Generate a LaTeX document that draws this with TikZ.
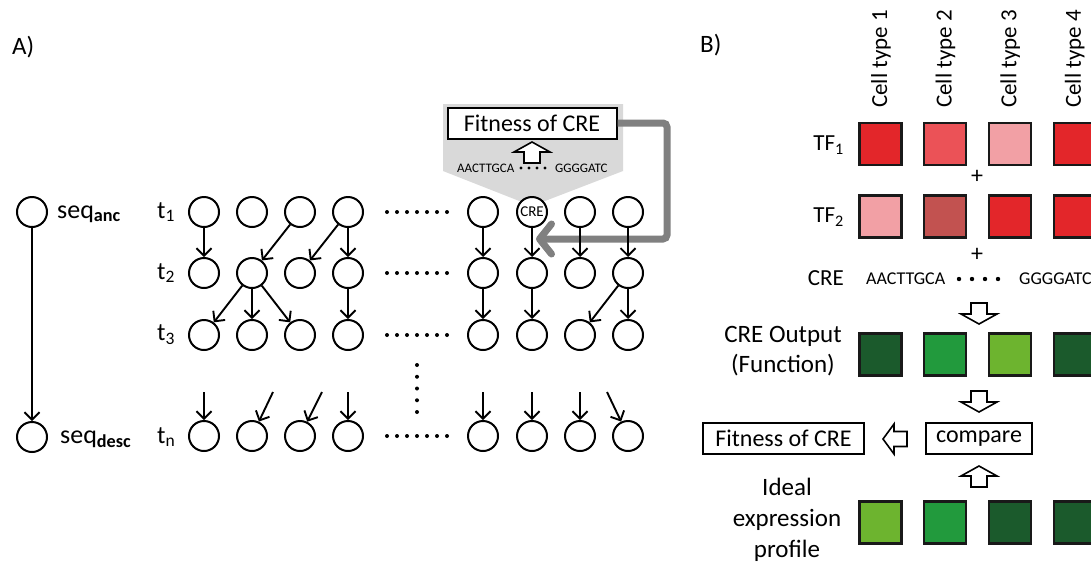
\documentclass[tikz,border=0pt]{standalone}
\usepackage{fontspec}
\setmainfont{Carlito}
\usetikzlibrary{arrows.meta}
\definecolor{redA}{HTML}{E3262A}
\definecolor{redB}{HTML}{EB5257}
\definecolor{redC}{HTML}{F2A0A5}
\definecolor{redD}{HTML}{C25250}
\definecolor{grnA}{HTML}{1B5A2C}
\definecolor{grnB}{HTML}{229A3D}
\definecolor{grnC}{HTML}{6DB42F}
\definecolor{callout}{HTML}{D9D9D9}
\definecolor{loopgrey}{HTML}{808080}
\newcommand{\fs}[1]{\fontsize{#1}{#1}\selectfont}
\newcommand{\fsl}[2]{\fontsize{#1}{#2}\selectfont}
\begin{document}
\begin{tikzpicture}[x=1pt,y=-1pt,
  stage/.style={circle,draw,line width=2pt,fill=white,minimum size=30pt,inner sep=0pt},
  lin/.style={line width=1.9pt,-{Straight Barb[length=7.5pt,width=15pt]}},
  greyarr/.style={draw=loopgrey,line width=7pt,rounded corners=4pt,
    -{Straight Barb[length=12pt,width=30pt,round]}},
  txt/.style={inner sep=0pt,font=\fs{25}},
  sq/.style={draw=black!90,line width=2.2pt,minimum size=42pt,inner sep=0pt},
  boxed/.style={draw,line width=2pt,fill=white,inner sep=0pt,minimum height=31pt,font=\fs{24}},
  hollowup/.pic={\draw[line width=1.6pt,fill=white,line join=miter]
    (0,0) -- (18,10) -- (8,10) -- (8,21) -- (-8,21) -- (-8,10) -- (-18,10) -- cycle;},
  dot/.style={fill=black,circle,inner sep=0pt,minimum size=4pt}
]
\clip (0,0) rectangle (1091,563);

% ---------------- panel A ----------------
\node[txt,anchor=west] (labA) at (12,47) {A)};

% ancestor / descendant overview
\node[stage] (seqa) at (32,212) {};
\node[stage] (seqd) at (32,437) {};
\node[txt,anchor=west,font=\fs{26}] (seqal) at (57,214) {seq\textsubscript{\textbf{anc}}};
\node[txt,anchor=west,font=\fs{26}] (seqdl) at (60,439) {seq\textsubscript{\textbf{desc}}};
\draw[lin] (seqa) -- (seqd);

% generation labels
\foreach \r/\yy/\s in {1/212/1,2/273/2,3/335/3,4/437/n}
  \node[txt,anchor=west,font=\fs{25}] (t\r) at (157,\yy) {t\textsubscript{\s}};

% callout around the CRE
\fill[callout] (443,104) -- (623,104) -- (623,171) -- (532,206) -- (443,171) -- cycle;

% population grid
\foreach \c/\xx in {1/204,2/252,3/300,4/348,5/483,7/580,8/628}
  \node[stage] (c1\c) at (\xx,212) {};
\node[stage,font=\fs{15}] (c16) at (532,212) {CRE};
\foreach \r/\yy in {2/273,3/335,4/436}
  \foreach \c/\xx in {1/204,2/252,3/300,4/348,5/483,6/532,7/580,8/628}
    \node[stage] (c\r\c) at (\xx,\yy) {};

% omitted generations and individuals
\foreach \yy in {212,273,335,436}
  \foreach \k in {0,...,6}
    \node[dot] at (387+10*\k,\yy) {};
\foreach \k in {0,...,4}
  \node[dot] at (417,365+11.75*\k) {};

% fitness evaluation inside the callout
\node[boxed,minimum width=169pt] (fitA) at (532,123) {Fitness of CRE};
\pic at (532,142) {hollowup};
\node[inner sep=0pt,anchor=west,font=\fs{13}] (seqL) at (457,168) {AACTTGCA};
\node[inner sep=0pt,anchor=west,font=\fs{13}] (seqR) at (555,168) {GGGGATC};
\foreach \xx in {521,529,537,545}
  \node[dot,minimum size=3.4pt] at (\xx,168) {};

% selection feeds back into the next generation
\coordinate (greytip) at (536,239);
\draw[greyarr] (fitA.east) -- (667,123) -- (667,239) -- (greytip);

% lineages between generations
\draw[lin] (c11) -- (c21);
\draw[lin] (c13) -- (c22);
\draw[lin] (c14) -- (c23);
\draw[lin] (c14) -- (c24);
\draw[lin] (c15) -- (c25);
\draw[lin] (c16) -- (c26);
\draw[lin] (c17) -- (c27);
\draw[lin] (c18) -- (c28);
\draw[lin] (c22) -- (c31);
\draw[lin] (c22) -- (c32);
\draw[lin] (c22) -- (c33);
\draw[lin] (c24) -- (c34);
\draw[lin] (c25) -- (c35);
\draw[lin] (c26) -- (c36);
\draw[lin] (c28) -- (c37);
\draw[lin] (c28) -- (c38);
\foreach \c/\xx in {1/204,2/273,3/322,4/348,5/483,6/532,7/580,8/607}{
  \coordinate (in\c) at (\xx,392);
  \draw[lin] (in\c) -- (c4\c);
}

% ---------------- panel B ----------------
\node[txt,anchor=west] (labB) at (700,45) {B)};

\foreach \c in {1,...,4}
  \node[txt,font=\fs{23},rotate=90,anchor=west] (ct\c) at ({881+64.6*(\c-1)},108) {Cell type \c};

\node[txt,anchor=east,font=\fs{23}] (tf1l) at (844,145) {TF\textsubscript{1}};
\node[txt,anchor=east,font=\fs{23}] (tf2l) at (844,217) {TF\textsubscript{2}};
\node[txt,anchor=east,font=\fs{23}] (crel) at (844,278) {CRE};
\node[txt,align=center,font={\fsl{25}{30}}] (outl) at (783,351) {CRE Output\\(Function)};
\node[txt,align=center,font={\fsl{25}{31}}] (idl) at (787,520) {Ideal\\expression\\profile};

\foreach \c/\col in {1/redA,2/redB,3/redC,4/redA}
  \node[sq,fill=\col] (tfa\c) at ({880.5+64.8*(\c-1)},144) {};
\foreach \c/\col in {1/redC,2/redD,3/redA,4/redA}
  \node[sq,fill=\col] (tfb\c) at ({880.5+64.8*(\c-1)},216.5) {};
\foreach \c/\col in {1/grnA,2/grnB,3/grnC,4/grnA}
  \node[sq,fill=\col] (out\c) at ({880.5+64.8*(\c-1)},354.5) {};
\foreach \c/\col in {1/grnC,2/grnB,3/grnA,4/grnA}
  \node[sq,fill=\col] (ide\c) at ({880.5+64.8*(\c-1)},522.5) {};

\node[txt,font=\fs{24}] (plus1) at (977,177) {+};
\node[txt,font=\fs{24}] (plus2) at (977,255) {+};

\node[inner sep=0pt,anchor=west,font=\fs{18}] (bseqL) at (866,279) {AACTTGCA};
\node[inner sep=0pt,anchor=west,font=\fs{18}] (bseqR) at (1019,279) {GGGGATC};
\foreach \xx in {959,972,985,998}
  \node[dot,minimum size=4.4pt] at (\xx,279) {};

\pic[rotate=180] at (979,324) {hollowup};
\pic[rotate=180] at (979,412) {hollowup};
\node[boxed,minimum width=106pt] (cmp) at (979,438.5) {compare};
\node[boxed,minimum width=161pt] (fitB) at (783.5,438.5) {Fitness of CRE};
% hollow arrow from compare towards the fitness box
\draw[line width=1.6pt,fill=white,line join=miter]
  (883,439) -- (894,424) -- (894,431.5) -- (907,431.5) -- (907,446.5)
  -- (894,446.5) -- (894,454) -- cycle;
\pic at (979,466) {hollowup};
\end{tikzpicture}
\end{document}
